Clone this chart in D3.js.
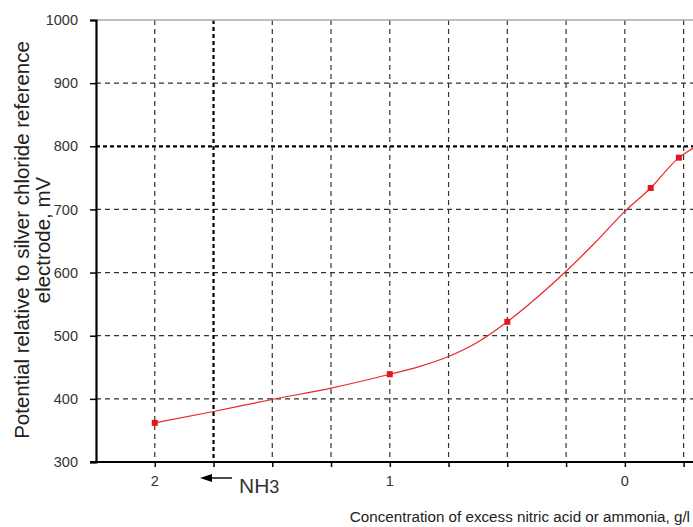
<!DOCTYPE html>
<html>
<head>
<meta charset="utf-8">
<script src="https://cdn.jsdelivr.net/npm/d3@7"></script>
<style>
  body { margin: 0; background: #fff; }
  svg { display: block; font-family: "Liberation Sans", Arial, sans-serif; }
</style>
</head>
<body>
<div id="chart"></div>
<script>
// curve (concentration g/l, potential mV)
const conc = [2, 1.75, 1.5, 1.25, 1, 0.875, 0.75, 0.625, 0.5, 0.375, 0.25, 0.125, 0, -0.11, -0.23, -0.29];
const potential = [362, 380, 399, 417, 439, 451, 467, 490, 522, 560, 602, 648, 697, 734, 782, 797];
// measured points drawn as squares
const markConc = [2, 1, 0.5, -0.11, -0.23];
const markPot = [362, 439, 522, 734, 782];
const yTicks = [300, 400, 500, 600, 700, 800, 900, 1000];
const xGrid = [2, 1.75, 1.5, 1.25, 1, 0.75, 0.5, 0.25, 0, -0.25];
const xLabels = [2, 1, 0];

const width = 693, height = 527;
const svg = d3.select("#chart").append("svg")
  .attr("width", width)
  .attr("height", height);

const x = d3.scaleLinear().domain([2.25, -0.29]).range([96, 693]);
const y = d3.scaleLinear().domain([300, 1000]).range([462, 20]);

// grid
const grid = svg.append("g");
grid.selectAll("line.h")
  .data(yTicks.filter(d => d > 300 && d < 1000))
  .join("line")
  .attr("x1", 96).attr("x2", width)
  .attr("y1", d => y(d)).attr("y2", d => y(d))
  .attr("stroke", d => d === 800 ? "#000" : "#333")
  .attr("stroke-width", d => d === 800 ? 2.2 : 1.2)
  .attr("stroke-dasharray", d => d === 800 ? "4,3" : "5,4");

grid.selectAll("line.v")
  .data(xGrid)
  .join("line")
  .attr("y1", y(1000)).attr("y2", y(300))
  .attr("x1", d => x(d)).attr("x2", d => x(d))
  .attr("stroke", d => d === 1.75 ? "#000" : "#333")
  .attr("stroke-width", d => d === 1.75 ? 2.2 : 1.2)
  .attr("stroke-dasharray", d => d === 1.75 ? "4,3" : "5,4");

// top border
svg.append("line")
  .attr("x1", 96).attr("x2", width)
  .attr("y1", y(1000)).attr("y2", y(1000))
  .attr("stroke", "#aaa").attr("stroke-width", 1.5);

// axes
const yAxis = svg.append("g")
  .attr("transform", "translate(96,0)")
  .call(d3.axisLeft(y).tickValues(yTicks).tickSize(6).tickPadding(12).tickFormat(d3.format("d")));
yAxis.select(".domain").attr("stroke", "#000").attr("stroke-width", 2.2);
yAxis.selectAll(".tick line").attr("stroke", "#000").attr("stroke-width", 1.5);
yAxis.selectAll(".tick text").attr("font-size", 14.5).attr("fill", "#333")
  .attr("font-family", "Liberation Sans, Arial, sans-serif");

const xAxis = svg.append("g")
  .attr("transform", `translate(0,${y(300)})`)
  .call(d3.axisBottom(x).tickValues(xGrid).tickSize(5).tickFormat(""));
xAxis.select(".domain").attr("stroke", "#000").attr("stroke-width", 1.8)
  .attr("d", `M90,0H${width}`);
xAxis.selectAll(".tick line").attr("stroke", "#000").attr("stroke-width", 1.5);

svg.append("g").selectAll("text")
  .data(xLabels)
  .join("text")
  .attr("x", d => x(d))
  .attr("y", 486)
  .attr("text-anchor", "middle")
  .attr("font-size", 14.5)
  .attr("fill", "#333")
  .text(d => d);

// curve
const line = d3.line()
  .x(d => x(d[0]))
  .y(d => y(d[1]))
  .curve(d3.curveMonotoneX);

svg.append("path")
  .datum(conc.map((c, i) => [c, potential[i]]))
  .attr("d", line)
  .attr("fill", "none")
  .attr("stroke", "#e8262a")
  .attr("stroke-width", 1.2);

svg.append("g").selectAll("rect")
  .data(markConc.map((c, i) => [c, markPot[i]]))
  .join("rect")
  .attr("x", d => x(d[0]) - 3)
  .attr("y", d => y(d[1]) - 3)
  .attr("width", 6).attr("height", 6)
  .attr("fill", "#e8141a");

// NH3 arrow
svg.append("path")
  .attr("d", "M200,478L212,474L212,482Z")
  .attr("fill", "#000");
svg.append("line")
  .attr("x1", 211).attr("x2", 232)
  .attr("y1", 478).attr("y2", 478)
  .attr("stroke", "#000").attr("stroke-width", 1.4);

const nh = svg.append("text")
  .attr("x", 239).attr("y", 493)
  .attr("font-size", 21).attr("fill", "#333");
nh.append("tspan").text("NH");
nh.append("tspan").attr("font-size", 18).attr("dy", 0).text("3");

// axis titles
const yt = svg.append("text")
  .attr("transform", "translate(0,240) rotate(-90)")
  .attr("text-anchor", "middle")
  .attr("font-size", 20.5)
  .attr("fill", "#222");
yt.append("tspan").attr("x", 0).attr("y", 29).text("Potential relative to silver chloride reference");
yt.append("tspan").attr("x", 0).attr("y", 50).text("electrode, mV");

svg.append("text")
  .attr("x", 690).attr("y", 522)
  .attr("text-anchor", "end")
  .attr("font-size", 15.2)
  .attr("fill", "#222")
  .text("Concentration of excess nitric acid or ammonia,  g/l");
</script>
</body>
</html>
